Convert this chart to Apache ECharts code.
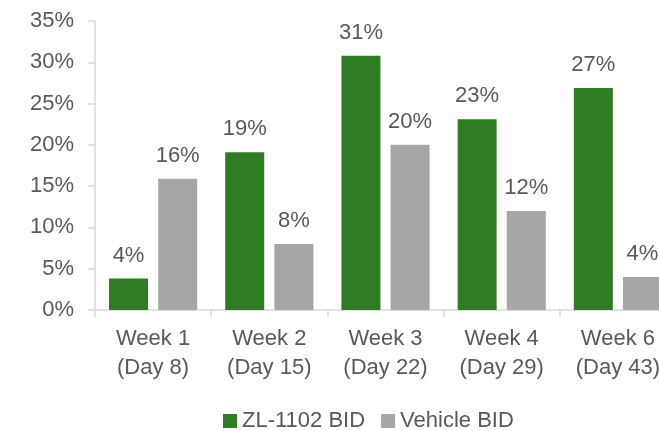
<!DOCTYPE html>
<html>
<head>
<meta charset="utf-8">
<script src="https://cdn.jsdelivr.net/npm/echarts@6/dist/echarts.min.js"></script>
<style>
  html, body { margin: 0; padding: 0; background: #fff; }
  #chart { width: 659px; height: 431px; }
</style>
</head>
<body>
<div id="chart"></div>
<script>
// 数据
var categories = ['Week 1\n(Day 8)', 'Week 2\n(Day 15)', 'Week 3\n(Day 22)', 'Week 4\n(Day 29)', 'Week 6\n(Day 43)']
var zlBid = [3.8, 19.1, 30.8, 23.1, 26.9]
var vehicleBid = [15.9, 8.0, 20.0, 12.0, 4.0]
var yTicks = [0, 5, 10, 15, 20, 25, 30, 35]

var font = 'Liberation Sans, Arial, sans-serif'
var textColor = '#595959'

var myChart = echarts.init(document.getElementById('chart'))

var labelOpt = {
  show: true,
  position: 'top',
  distance: 12,
  fontSize: 22,
  fontFamily: font,
  color: textColor,
  formatter: function (p) { return Math.round(p.value) + '%' }
}

myChart.setOption({
  animation: false,
  textStyle: { fontFamily: font },
  grid: { left: 95, top: 21, width: 581, height: 289, outerBoundsMode: 'none', containLabel: false },
  legend: {
    left: 218,
    top: 405,
    itemWidth: 14,
    itemHeight: 14,
    itemGap: 16,
    icon: 'rect',
    textStyle: { fontSize: 22, color: textColor, fontFamily: font },
    data: ['ZL-1102 BID', 'Vehicle BID']
  },
  xAxis: {
    type: 'category',
    data: categories,
    axisLine: { lineStyle: { color: '#d9d9d9', width: 1.5 } },
    axisTick: { show: true, length: 7, lineStyle: { color: '#d9d9d9', width: 1.5 } },
    axisLabel: { fontSize: 22, color: textColor, lineHeight: 29, margin: 14, fontFamily: font }
  },
  yAxis: {
    type: 'value',
    min: yTicks[0],
    max: yTicks[yTicks.length - 1],
    interval: 5,
    splitLine: { show: false },
    axisLine: { show: true, lineStyle: { color: '#d9d9d9', width: 1.5 } },
    axisTick: { show: true, length: 7, lineStyle: { color: '#d9d9d9', width: 1.5 } },
    axisLabel: { fontSize: 22, color: textColor, margin: 21, fontFamily: font, formatter: '{value}%' }
  },
  series: [
    {
      name: 'ZL-1102 BID',
      type: 'bar',
      data: zlBid,
      barWidth: 39,
      barGap: '26%',
      itemStyle: { color: '#2E7D23' },
      label: labelOpt
    },
    {
      name: 'Vehicle BID',
      type: 'bar',
      data: vehicleBid,
      barWidth: 39,
      itemStyle: { color: '#A6A6A6' },
      label: labelOpt
    }
  ]
})
</script>
</body>
</html>
